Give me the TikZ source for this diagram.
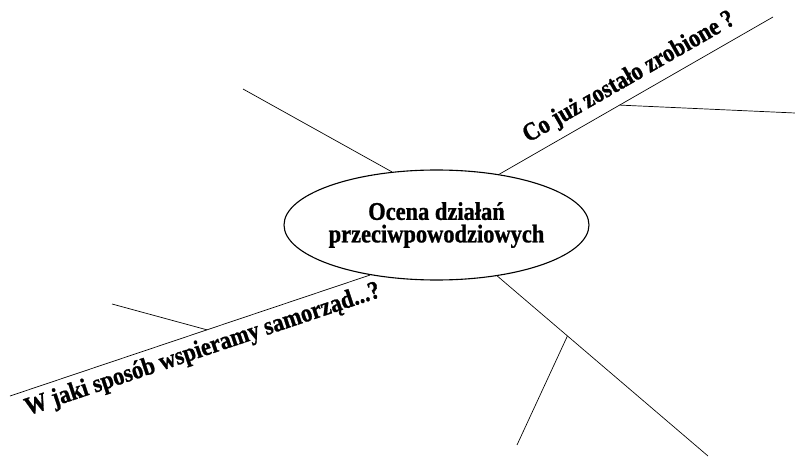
\documentclass[tikz,border=0pt]{standalone}
\usepackage{fontspec}
\setmainfont{Liberation Serif}[FakeStretch=0.88,BoldFeatures={FakeBold=1}]
\usetikzlibrary{shapes.geometric}

\begin{document}
\begin{tikzpicture}[x=1pt,y=-1pt,
  galaz/.style={line width=0.7pt},
  pytanie/.style={font=\bfseries\fontsize{25.5}{25.5}\selectfont,sloped}]
\useasboundingbox (0,0) rectangle (795,457);
\node[draw,ellipse,line width=1.1pt,minimum width=261pt,minimum height=110pt,inner sep=0pt,
  align=center,font=\bfseries\fontsize{25.5}{22.5}\selectfont] (ocena) at (436.5,225)
  {Ocena działań\\przeciwpowodziowych};
\coordinate (lewaGora) at (243,89);
\coordinate (prawaGora) at (773,17);
\coordinate (prawaGoraBok) at (795,113);
\coordinate (lewaDol) at (10,396);
\coordinate (lewaDolBok) at (112,304);
\coordinate (prawaDol) at (708,456);
\coordinate (prawaDolBok) at (517,445);
% galezie
\draw[galaz] (ocena.130) -- (lewaGora);
\draw[galaz] (ocena.39) -- (prawaGora) coordinate[pos=0.44] (prawaGoraWidelec)
  node[pytanie,pos=0.51,above,inner sep=7pt] {Co już zostało zrobione ?};
\draw[galaz] (prawaGoraWidelec) -- (prawaGoraBok);
\draw[galaz] (lewaDol) -- (ocena.217) coordinate[pos=0.547] (lewaDolWidelec)
  node[pytanie,pos=0.52,below,inner sep=6pt] {W jaki sposób wspieramy samorząd...?};
\draw[galaz] (lewaDolWidelec) -- (lewaDolBok);
\draw[galaz] (ocena.320) -- (prawaDol) coordinate[pos=0.333] (prawaDolWidelec);
\draw[galaz] (prawaDolWidelec) -- (prawaDolBok);
\end{tikzpicture}
\end{document}
